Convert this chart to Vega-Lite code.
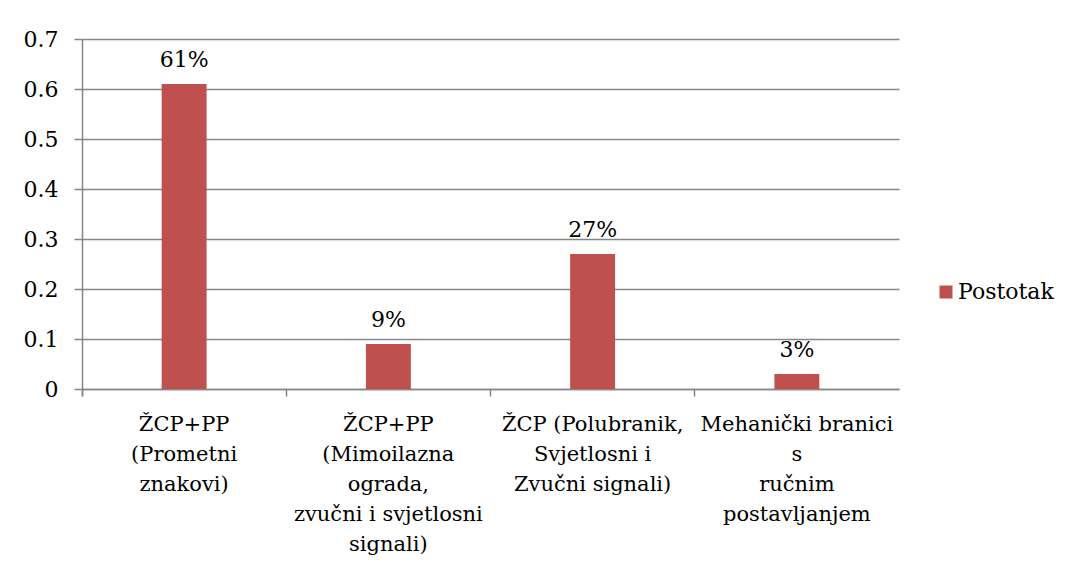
{
  "$schema": "https://vega.github.io/schema/vega-lite/v6.json",
  "autosize": {"type": "none"},
  "width": 817,
  "height": 350,
  "padding": {"left": 82, "top": 39, "right": 167, "bottom": 177},
  "background": "white",
  "config": {
    "view": {"stroke": null},
    "font": "DejaVu Serif",
    "axis": {"labelFont": "DejaVu Serif", "labelColor": "black", "labelFontSize": 22, "domainColor": "#868686", "tickColor": "#868686", "gridColor": "#868686", "domainWidth": 1.5, "tickWidth": 1.5, "gridWidth": 1.5},
    "legend": {"labelFont": "DejaVu Serif", "labelFontSize": 22, "labelColor": "black"}
  },
  "data": {
    "values": [
      {"kategorija": "ŽCP+PP\n(Prometni\nznakovi)", "postotak": 0.61, "serija": "Postotak"},
      {"kategorija": "ŽCP+PP\n(Mimoilazna\nograda,\nzvučni i svjetlosni\nsignali)", "postotak": 0.09, "serija": "Postotak"},
      {"kategorija": "ŽCP (Polubranik,\nSvjetlosni i\nZvučni signali)", "postotak": 0.27, "serija": "Postotak"},
      {"kategorija": "Mehanički branici\ns\nručnim\npostavljanjem", "postotak": 0.03, "serija": "Postotak"}
    ]
  },
  "encoding": {
    "x": {
      "field": "kategorija", "type": "nominal", "sort": null,
      "scale": {"paddingInner": 0, "paddingOuter": 0},
      "axis": {
        "title": null, "labelAngle": 0, "labelExpr": "split(datum.label, '\\n')",
        "labelFontSize": 21, "labelLineHeight": 30, "labelBaseline": "alphabetic", "labelPadding": 34,
        "tickSize": 7, "bandPosition": 0, "tickExtra": true,
        "labelOverlap": false, "labelLimit": 0, "labelBound": false, "labelFlush": false
      }
    },
    "y": {
      "field": "postotak", "type": "quantitative",
      "scale": {"domain": [0, 0.7], "nice": false},
      "axis": {"title": null, "values": [0, 0.1, 0.2, 0.3, 0.4, 0.5, 0.6, 0.7], "format": ".1~f", "tickSize": 8, "labelPadding": 16, "grid": true}
    }
  },
  "layer": [
    {
      "mark": {"type": "bar", "width": {"band": 0.22}},
      "encoding": {
        "color": {
          "field": "serija", "type": "nominal",
          "scale": {"range": ["#C0504D"]},
          "legend": {"title": null, "orient": "none", "legendX": 853, "legendY": 242, "symbolType": "square", "symbolSize": 169, "symbolStrokeWidth": 0, "labelOffset": 1}
        }
      }
    },
    {
      "mark": {"type": "text", "baseline": "alphabetic", "dy": -17, "fontSize": 22, "font": "DejaVu Serif", "color": "black"},
      "encoding": {
        "text": {"field": "postotak", "type": "quantitative", "format": ".0%"}
      }
    }
  ]
}
